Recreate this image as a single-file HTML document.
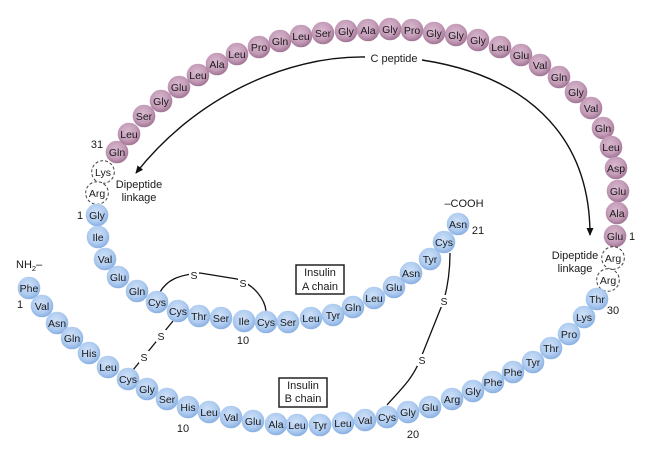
<!DOCTYPE html>
<html><head><meta charset="utf-8"><style>
html,body{margin:0;padding:0;background:#fff;}
svg{display:block;}
text{font-family:"Liberation Sans",Arial,sans-serif;fill:#1a1a1a;}
.r{font-size:10.5px;text-anchor:middle;}
.l{font-size:11px;}
.c{text-anchor:middle;}
</style></head><body>
<svg width="650" height="454" viewBox="0 0 650 454" xmlns="http://www.w3.org/2000/svg">
<defs>
<radialGradient id="gb" cx="45%" cy="40%" r="60%">
<stop offset="0" stop-color="#d0e1f8"/><stop offset="0.65" stop-color="#afccf0"/><stop offset="1" stop-color="#88afe2"/>
</radialGradient>
<radialGradient id="gm" cx="45%" cy="40%" r="60%">
<stop offset="0" stop-color="#d9b9cf"/><stop offset="0.65" stop-color="#c49cb8"/><stop offset="1" stop-color="#a07493"/>
</radialGradient>
<marker id="ah" markerWidth="8" markerHeight="8" refX="7" refY="4" orient="auto" markerUnits="userSpaceOnUse">
<path d="M0,0.5 L8,4 L0,7.5 Z" fill="#111"/>
</marker>
</defs>

<!-- C peptide arrows -->
<path d="M365,57 C285,56 195,98 136,173" fill="none" stroke="#111" stroke-width="1.4" marker-end="url(#ah)"/>
<path d="M422,60 C520,75 590,130 590,235" fill="none" stroke="#111" stroke-width="1.4" marker-end="url(#ah)"/>
<text class="l c" x="394" y="62">C peptide</text>

<!-- disulfide bonds -->
<g fill="none" stroke="#111" stroke-width="1.3">
<path d="M160,292 C167,280 178,275 200,273 L237,279 C255,285 265,300 266,311"/>
<path d="M133,370 L173,321"/>
<path d="M387,405 C400,390 412,380 420,360 L444,300 C448,285 450,270 450,253"/>
</g>
<g fill="#fff">
<rect x="189" y="269" width="10" height="12"/>
<rect x="238" y="277" width="10" height="12"/>
<rect x="139" y="351" width="10" height="12"/>
<rect x="156" y="330" width="10" height="12"/>
<rect x="417" y="354" width="10" height="12"/>
<rect x="439" y="295" width="10" height="12"/>
</g>
<g class="r">
<text x="194" y="279">S</text>
<text x="243" y="287">S</text>
<text x="144" y="361">S</text>
<text x="161" y="340">S</text>
<text x="422" y="364">S</text>
<text x="444" y="305">S</text>
</g>

<!-- C peptide residues (mauve) -->
<g fill="url(#gm)">
<circle cx="117" cy="152" r="11.3"/><circle cx="129" cy="134" r="11.3"/><circle cx="144" cy="116" r="11.3"/><circle cx="161" cy="101" r="11.3"/><circle cx="179" cy="87" r="11.3"/><circle cx="198" cy="75" r="11.3"/><circle cx="217" cy="64" r="11.3"/><circle cx="237" cy="54" r="11.3"/><circle cx="259" cy="47" r="11.3"/><circle cx="280" cy="41" r="11.3"/><circle cx="301" cy="36" r="11.3"/><circle cx="323" cy="33" r="11.3"/><circle cx="346" cy="31" r="11.3"/><circle cx="368" cy="30" r="11.3"/><circle cx="390" cy="29" r="11.3"/><circle cx="412" cy="30" r="11.3"/><circle cx="434" cy="33" r="11.3"/><circle cx="456" cy="35" r="11.3"/><circle cx="478" cy="40" r="11.3"/><circle cx="500" cy="47" r="11.3"/><circle cx="521" cy="55" r="11.3"/><circle cx="540" cy="65" r="11.3"/><circle cx="559" cy="77" r="11.3"/><circle cx="576" cy="92" r="11.3"/><circle cx="591" cy="108" r="11.3"/><circle cx="603" cy="128" r="11.3"/><circle cx="611" cy="147" r="11.3"/><circle cx="616" cy="168" r="11.3"/><circle cx="618" cy="191" r="11.3"/><circle cx="617" cy="213" r="11.3"/><circle cx="615" cy="236" r="11.3"/>
</g>
<g class="r">
<text x="117" y="156">Gln</text><text x="129" y="138">Leu</text><text x="144" y="120">Ser</text><text x="161" y="105">Gly</text><text x="179" y="91">Glu</text><text x="198" y="79">Leu</text><text x="217" y="68">Ala</text><text x="237" y="58">Leu</text><text x="259" y="51">Pro</text><text x="280" y="45">Gln</text><text x="301" y="40">Leu</text><text x="323" y="37">Ser</text><text x="346" y="35">Gly</text><text x="368" y="34">Ala</text><text x="390" y="33">Gly</text><text x="412" y="34">Pro</text><text x="434" y="37">Gly</text><text x="456" y="39">Gly</text><text x="478" y="44">Gly</text><text x="500" y="51">Leu</text><text x="521" y="59">Glu</text><text x="540" y="69">Val</text><text x="559" y="81">Gln</text><text x="576" y="96">Gly</text><text x="591" y="112">Val</text><text x="603" y="132">Gln</text><text x="611" y="151">Leu</text><text x="616" y="172">Asp</text><text x="618" y="195">Glu</text><text x="617" y="217">Ala</text><text x="615" y="240">Glu</text>
</g>

<!-- dashed dipeptide residues -->
<g fill="#fff" stroke="#444" stroke-width="1" stroke-dasharray="3,2">
<circle cx="103" cy="172" r="11.3"/><circle cx="97" cy="193" r="11.3"/>
<circle cx="613" cy="258" r="11.3"/><circle cx="608" cy="280" r="11.3"/>
</g>
<g class="r">
<text x="103" y="176">Lys</text><text x="97" y="197">Arg</text>
<text x="613" y="262">Arg</text><text x="608" y="284">Arg</text>
</g>

<!-- A chain (blue) -->
<g fill="url(#gb)">
<circle cx="97" cy="215" r="11.3"/><circle cx="98" cy="237" r="11.3"/><circle cx="105" cy="259" r="11.3"/><circle cx="118" cy="277" r="11.3"/><circle cx="137" cy="291" r="11.3"/><circle cx="157" cy="302" r="11.3"/><circle cx="178" cy="311" r="11.3"/><circle cx="199" cy="316" r="11.3"/><circle cx="221" cy="318" r="11.3"/><circle cx="244" cy="321" r="11.3"/><circle cx="266" cy="322" r="11.3"/><circle cx="288" cy="322" r="11.3"/><circle cx="311" cy="318" r="11.3"/><circle cx="333" cy="315" r="11.3"/><circle cx="353" cy="307" r="11.3"/><circle cx="374" cy="298" r="11.3"/><circle cx="394" cy="287" r="11.3"/><circle cx="411" cy="273" r="11.3"/><circle cx="430" cy="259" r="11.3"/><circle cx="444" cy="242" r="11.3"/><circle cx="458" cy="224" r="11.3"/>
</g>
<g class="r">
<text x="97" y="219">Gly</text><text x="98" y="241">Ile</text><text x="105" y="263">Val</text><text x="118" y="281">Glu</text><text x="137" y="295">Gln</text><text x="157" y="306">Cys</text><text x="178" y="315">Cys</text><text x="199" y="320">Thr</text><text x="221" y="322">Ser</text><text x="244" y="325">Ile</text><text x="266" y="326">Cys</text><text x="288" y="326">Ser</text><text x="311" y="322">Leu</text><text x="333" y="319">Tyr</text><text x="353" y="311">Gln</text><text x="374" y="302">Leu</text><text x="394" y="291">Glu</text><text x="411" y="277">Asn</text><text x="430" y="263">Tyr</text><text x="444" y="246">Cys</text><text x="458" y="228">Asn</text>
</g>

<!-- B chain (blue) -->
<g fill="url(#gb)">
<circle cx="29" cy="288" r="11.3"/><circle cx="42" cy="306" r="11.3"/><circle cx="57" cy="323" r="11.3"/><circle cx="72" cy="338" r="11.3"/><circle cx="89" cy="353" r="11.3"/><circle cx="108" cy="367" r="11.3"/><circle cx="128" cy="379" r="11.3"/><circle cx="147" cy="389" r="11.3"/><circle cx="167" cy="399" r="11.3"/><circle cx="188" cy="407" r="11.3"/><circle cx="209" cy="412" r="11.3"/><circle cx="231" cy="417" r="11.3"/><circle cx="253" cy="421" r="11.3"/><circle cx="276" cy="424" r="11.3"/><circle cx="297" cy="425" r="11.3"/><circle cx="320" cy="425" r="11.3"/><circle cx="343" cy="423" r="11.3"/><circle cx="365" cy="420" r="11.3"/><circle cx="387" cy="417" r="11.3"/><circle cx="408" cy="412" r="11.3"/><circle cx="430" cy="407" r="11.3"/><circle cx="452" cy="399" r="11.3"/><circle cx="473" cy="391" r="11.3"/><circle cx="493" cy="382" r="11.3"/><circle cx="513" cy="372" r="11.3"/><circle cx="533" cy="362" r="11.3"/><circle cx="551" cy="348" r="11.3"/><circle cx="569" cy="334" r="11.3"/><circle cx="584" cy="317" r="11.3"/><circle cx="597" cy="299" r="11.3"/>
</g>
<g class="r">
<text x="29" y="292">Phe</text><text x="42" y="310">Val</text><text x="57" y="327">Asn</text><text x="72" y="342">Gln</text><text x="89" y="357">His</text><text x="108" y="371">Leu</text><text x="128" y="383">Cys</text><text x="147" y="393">Gly</text><text x="167" y="403">Ser</text><text x="188" y="411">His</text><text x="209" y="416">Leu</text><text x="231" y="421">Val</text><text x="253" y="425">Glu</text><text x="276" y="428">Ala</text><text x="297" y="429">Leu</text><text x="320" y="429">Tyr</text><text x="343" y="427">Leu</text><text x="365" y="424">Val</text><text x="387" y="421">Cys</text><text x="408" y="416">Gly</text><text x="430" y="411">Glu</text><text x="452" y="403">Arg</text><text x="473" y="395">Gly</text><text x="493" y="386">Phe</text><text x="513" y="376">Phe</text><text x="533" y="366">Tyr</text><text x="551" y="352">Thr</text><text x="569" y="338">Pro</text><text x="584" y="321">Lys</text><text x="597" y="303">Thr</text>
</g>

<!-- boxes -->
<rect x="296" y="265" width="48" height="29" fill="#fff" stroke="#222" stroke-width="1.5"/>
<text class="l c" x="320" y="276">Insulin</text>
<text class="l c" x="320" y="290">A chain</text>
<rect x="279" y="378" width="48" height="29" fill="#fff" stroke="#222" stroke-width="1.5"/>
<text class="l c" x="303" y="389">Insulin</text>
<text class="l c" x="303" y="402">B chain</text>

<!-- labels -->
<text class="l c" x="97" y="148">31</text>
<text class="l c" x="80" y="219">1</text>
<text class="l c" x="139" y="188">Dipeptide</text>
<text class="l c" x="139" y="201">linkage</text>
<text class="l c" x="575" y="259">Dipeptide</text>
<text class="l c" x="575" y="272">linkage</text>
<text class="l c" x="632" y="240">1</text>
<text class="l c" x="613" y="314">30</text>
<text class="l c" x="478" y="234">21</text>
<text class="l c" x="464" y="207">–COOH</text>
<text class="l" x="16" y="268">NH<tspan font-size="7.5" dy="3">2</tspan><tspan dy="-3">–</tspan></text>
<text class="l c" x="20" y="308">1</text>
<text class="l c" x="243" y="344">10</text>
<text class="l c" x="183" y="432">10</text>
<text class="l c" x="413" y="438">20</text>
</svg>
</body></html>
